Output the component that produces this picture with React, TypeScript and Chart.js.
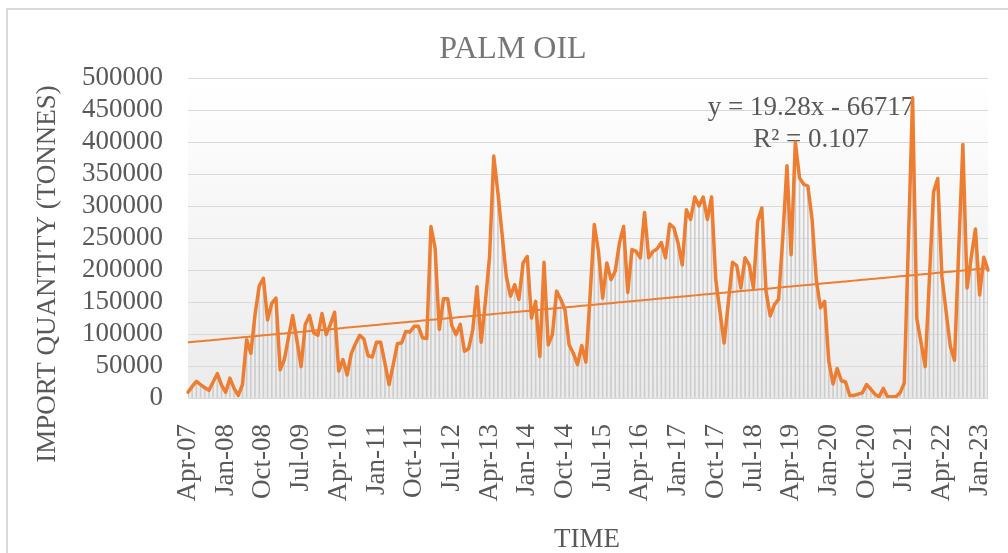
import React, { useEffect, useRef } from 'react';
import { Chart, registerables } from 'chart.js';

Chart.register(...registerables);

// ---- Data (monthly import quantity, tonnes), Apr-07 .. Mar-23 ----
const MONTH_NAMES = ['Jan', 'Feb', 'Mar', 'Apr', 'May', 'Jun', 'Jul', 'Aug', 'Sep', 'Oct', 'Nov', 'Dec'];
const START_YEAR = 2007;
const START_MONTH_INDEX = 3; // April

const IMPORT_QTY: number[] = [
  9000, 18000, 26000, 21000, 16000, 12000, 25000, 38000, 20000, 9000,
  31000, 15000, 4000, 21000, 91000, 70000, 130000, 175000, 187000, 122000,
  148000, 156000, 44000, 60000, 95000, 129000, 90000, 49000, 115000, 129000,
  102000, 98000, 132000, 99000, 115000, 134000, 42000, 60000, 36000, 70000,
  85000, 98000, 92000, 66000, 64000, 87000, 87000, 55000, 21000, 52000,
  85000, 86000, 104000, 103000, 112000, 112000, 94000, 93000, 268000, 234000,
  107000, 155000, 155000, 113000, 99000, 115000, 73000, 77000, 107000, 174000,
  87000, 150000, 221000, 378000, 320000, 255000, 190000, 159000, 177000, 154000,
  211000, 221000, 125000, 151000, 65000, 212000, 83000, 99000, 167000, 154000,
  138000, 83000, 70000, 52000, 82000, 56000, 160000, 271000, 229000, 156000,
  211000, 185000, 198000, 242000, 268000, 165000, 232000, 229000, 219000, 290000,
  219000, 229000, 233000, 243000, 219000, 272000, 266000, 242000, 208000, 294000,
  279000, 314000, 300000, 314000, 279000, 314000, 185000, 135000, 86000, 149000,
  212000, 207000, 172000, 219000, 208000, 172000, 276000, 297000, 167000, 128000,
  146000, 154000, 250000, 363000, 224000, 400000, 344000, 334000, 331000, 279000,
  185000, 141000, 151000, 57000, 22000, 46000, 27000, 25000, 4000, 4000,
  6000, 8000, 21000, 14000, 6000, 2000, 15000, 2000, 2000, 2000,
  8000, 23000, 245000, 469000, 124000, 87000, 49000, 185000, 322000, 343000,
  190000, 135000, 81000, 59000, 230000, 396000, 172000, 220000, 264000, 161000,
  220000, 200000,
];

const CATEGORIES: string[] = IMPORT_QTY.map((_, i) => {
  const m = (START_MONTH_INDEX + i) % 12;
  const y = START_YEAR + Math.floor((START_MONTH_INDEX + i) / 12);
  return `${MONTH_NAMES[m]}-${String(y % 100).padStart(2, '0')}`;
});

const TICK_EVERY = 9; // label every 9th month: Apr-07, Jan-08, Oct-08 ...
const Y_MIN = 0;
const Y_MAX = 500000;
const Y_STEP = 50000;

const TITLE = 'PALM OIL';
const Y_TITLE = 'IMPORT QUANTITY (TONNES)';
const X_TITLE = 'TIME';
const EQUATION = 'y = 19.28x - 66717';
const R_SQUARED = 'R² = 0.107';

// Ordinary least squares trend line of the series (as Excel's linear trendline)
function linearTrend(values: number[]): number[] {
  const n = values.length;
  let sx = 0, sy = 0, sxx = 0, sxy = 0;
  values.forEach((v, i) => { sx += i; sy += v; sxx += i * i; sxy += i * v; });
  const b = (n * sxy - sx * sy) / (n * sxx - sx * sx);
  const a = (sy - b * sx) / n;
  return values.map((_, i) => a + b * i);
}

const FONT = "'Liberation Serif', 'Times New Roman', serif";
const ORANGE = '#ED7D31';
const TEXT = '#595959';

const decorPlugin = {
  id: 'decor',
  beforeDraw(chart: any) {
    const { ctx, chartArea } = chart;
    ctx.save();
    // outer frame (top and left edges visible)
    ctx.strokeStyle = '#d9d9d9';
    ctx.lineWidth = 2;
    ctx.beginPath();
    ctx.moveTo(7, 560);
    ctx.lineTo(7, 9);
    ctx.lineTo(1010, 9);
    ctx.stroke();
    // plot-area gradient
    const g = ctx.createLinearGradient(0, chartArea.top, 0, chartArea.bottom);
    g.addColorStop(0, '#ffffff');
    g.addColorStop(1, '#ebebeb');
    ctx.fillStyle = g;
    ctx.fillRect(chartArea.left, chartArea.top, chartArea.right - chartArea.left, chartArea.bottom - chartArea.top);
    ctx.restore();
  },
  beforeDatasetsDraw(chart: any) {
    const { ctx } = chart;
    ctx.save();
    ctx.textAlign = 'center';
    ctx.textBaseline = 'alphabetic';
    // title
    ctx.fillStyle = '#767676';
    ctx.font = `32px ${FONT}`;
    ctx.fillText(TITLE, 513, 58);
    // axis titles
    ctx.fillStyle = TEXT;
    ctx.font = `27px ${FONT}`;
    ctx.fillText(X_TITLE, 587, 547);
    ctx.save();
    ctx.translate(55, 274);
    ctx.rotate(-Math.PI / 2);
    ctx.fillText(Y_TITLE, 0, 0);
    ctx.restore();
    // trendline label
    ctx.font = `27px ${FONT}`;
    ctx.fillText(EQUATION, 811, 115);
    ctx.fillText(R_SQUARED, 811, 147);
    ctx.restore();
  },
};

export default function App() {
  const canvasRef = useRef<HTMLCanvasElement | null>(null);

  useEffect(() => {
    const canvas = canvasRef.current;
    if (!canvas) return;
    const trend = linearTrend(IMPORT_QTY);
    const chart = new Chart(canvas, {
      data: {
        labels: CATEGORIES,
        datasets: [
          {
            type: 'line',
            label: 'Linear (import)',
            data: trend,
            borderColor: ORANGE,
            borderWidth: 2,
            pointRadius: 0,
            tension: 0,
            order: 1,
          },
          {
            type: 'line',
            label: 'Import quantity',
            data: IMPORT_QTY,
            borderColor: ORANGE,
            borderWidth: 3.5,
            pointRadius: 0,
            tension: 0,
            borderJoinStyle: 'round',
            borderCapStyle: 'round',
            order: 2,
          },
          {
            type: 'bar',
            label: 'drop',
            data: IMPORT_QTY,
            backgroundColor: '#cdcdcd',
            barThickness: 1,
            order: 3,
          },
        ],
      } as any,
      options: {
        responsive: false,
        animation: false,
        events: [],
        layout: { padding: { left: 0, right: 20, top: 78, bottom: 0 } },
        plugins: {
          legend: { display: false },
          tooltip: { enabled: false },
          title: { display: false },
        },
        scales: {
          x: {
            type: 'category',
            offset: false,
            grid: { display: false, drawTicks: false },
            border: { display: false },
            ticks: {
              autoSkip: false,
              maxRotation: 90,
              minRotation: 90,
              padding: 26,
              color: TEXT,
              font: { family: FONT, size: 27 },
              callback: (_v: any, i: number) => (i % TICK_EVERY === 0 ? CATEGORIES[i] : ''),
            },
            afterFit: (s: any) => {
              s.height = 553 - 398;
              s.paddingLeft = 0;
              s.paddingRight = 0;
            },
          },
          y: {
            min: Y_MIN,
            max: Y_MAX,
            grid: { color: '#d9d9d9', lineWidth: 1, drawTicks: false },
            border: { display: false },
            ticks: {
              autoSkip: false,
              stepSize: Y_STEP,
              padding: 25,
              color: TEXT,
              font: { family: FONT, size: 27 },
              callback: (v: any) => String(v),
            },
            afterFit: (s: any) => {
              s.width = 188;
              s.paddingTop = 0;
              s.paddingBottom = 0;
            },
          },
        },
      } as any,
      plugins: [decorPlugin],
    });
    return () => chart.destroy();
  }, []);

  return (
    <div style={{ position: 'absolute', left: 0, top: 0, width: 1008, height: 553, background: '#ffffff' }}>
      <canvas ref={canvasRef} width={1008} height={553} style={{ display: 'block' }} />
    </div>
  );
}
